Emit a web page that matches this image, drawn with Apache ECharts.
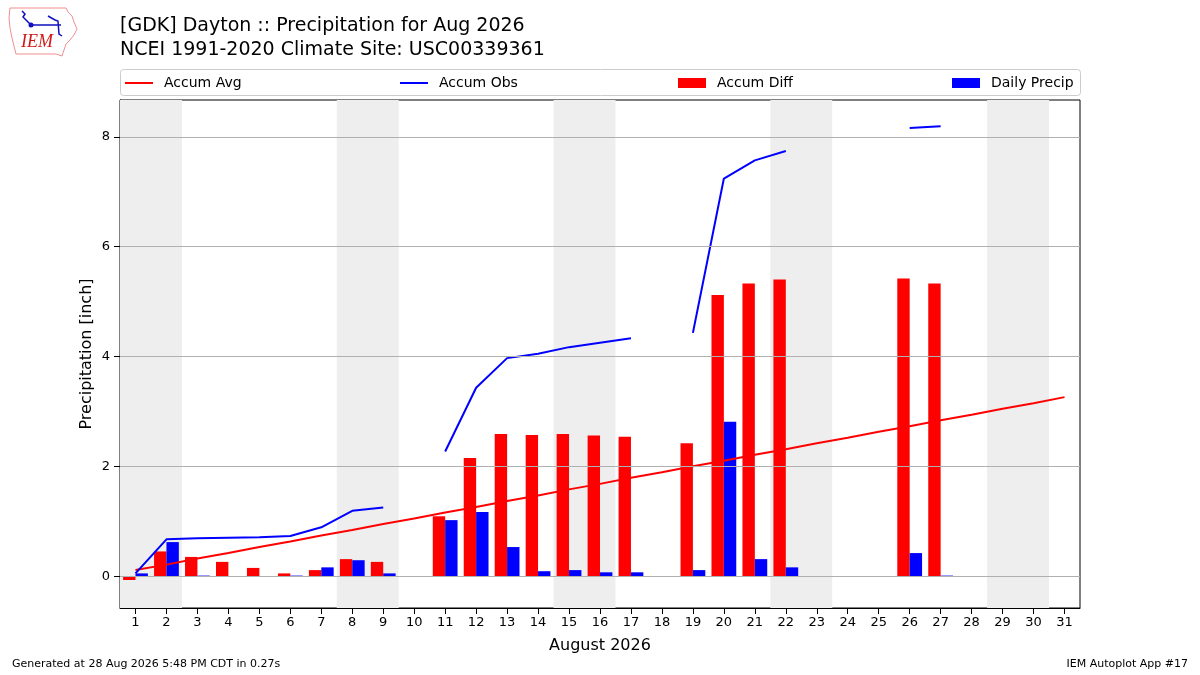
<!DOCTYPE html>
<html>
<head>
<meta charset="utf-8">
<title>Dayton Precipitation Aug 2026</title>
<script src="https://cdn.jsdelivr.net/npm/echarts@6/dist/echarts.min.js"></script>
<style>
  html, body { margin: 0; padding: 0; background: #fff; }
  #chart { width: 1200px; height: 675px; }
</style>
</head>
<body>
<div id="chart"></div>
<script>
// day of month
var days = [1, 2, 3, 4, 5, 6, 7, 8, 9, 10, 11, 12, 13, 14, 15, 16, 17, 18, 19, 20,
            21, 22, 23, 24, 25, 26, 27, 28, 29, 30, 31];
// climatology accumulated average (inch)
var accumAvg = [0.11, 0.21, 0.32, 0.42, 0.53, 0.63, 0.74, 0.84, 0.95, 1.05, 1.16,
                1.26, 1.37, 1.47, 1.58, 1.68, 1.79, 1.89, 2.00, 2.10, 2.21, 2.31,
                2.42, 2.52, 2.63, 2.73, 2.84, 2.94, 3.05, 3.15, 3.26];
// observed accumulation, null = missing
var accumObs = [0.05, 0.67, 0.69, 0.70, 0.71, 0.73, 0.89, 1.19, 1.25, null, 2.27,
                3.43, 3.97, 4.05, 4.17, 4.25, 4.33, null, 4.43, 7.24, 7.57, 7.74,
                null, null, null, 8.16, 8.19, null, null, null, null];
// observed minus average
var accumDiff = [-0.07, 0.45, 0.35, 0.26, 0.15, 0.05, 0.11, 0.31, 0.26, null, 1.09,
                 2.15, 2.59, 2.57, 2.59, 2.56, 2.54, null, 2.42, 5.12, 5.33, 5.40,
                 null, null, null, 5.42, 5.33, null, null, null, null];
// daily precipitation
var dailyPrecip = [0.05, 0.62, 0.01, 0, 0, 0.01, 0.16, 0.29, 0.05, null, 1.02,
                   1.17, 0.53, 0.09, 0.11, 0.07, 0.07, null, 0.11, 2.81, 0.31, 0.16,
                   null, null, null, 0.42, 0.01, null, null, null, null];
// weekend spans
var weekends = [[0.5, 2.5], [7.5, 9.5], [14.5, 16.5], [21.5, 23.5], [28.5, 30.5]];
var yTicks = [0, 2, 4, 6, 8];

var FONT = 'DejaVu Sans';

function pairs(vals) {
    var out = [];
    for (var i = 0; i < days.length; i++) {
        out.push([days[i], vals[i] === null ? null : vals[i]]);
    }
    return out;
}
function barPairs(vals) {
    var out = [];
    for (var i = 0; i < days.length; i++) {
        if (vals[i] !== null) out.push([days[i], vals[i]]);
    }
    return out;
}
function barRender(offset, color) {
    return function (params, api) {
        var d = api.value(0), v = api.value(1);
        var p1 = api.coord([d + offset, v]);
        var p2 = api.coord([d + offset + 0.4, 0]);
        return {
            type: 'rect',
            shape: {
                x: p1[0], y: Math.min(p1[1], p2[1]),
                width: p2[0] - p1[0], height: Math.abs(p2[1] - p1[1])
            },
            style: {fill: color}
        };
    };
}

var chart = echarts.init(document.getElementById('chart'));

var legendBase = {
    top: 71,
    itemWidth: 28,
    itemGap: 9,
    selectedMode: false,
    textStyle: {fontFamily: FONT, fontSize: 14, color: '#000', padding: [0, 0, 0, 6]}
};
function leg(name, left, h) {
    var l = echarts.util.merge({}, legendBase);
    l.data = [{name: name, icon: 'rect'}];
    l.left = left;
    l.itemHeight = h;
    return l;
}

var option = {
    backgroundColor: '#fff',
    animation: false,
    textStyle: {fontFamily: FONT},
    title: {
        text: '[GDK] Dayton :: Precipitation for Aug 2026\nNCEI 1991-2020 Climate Site: USC00339361',
        left: 115,
        top: 9,
        textStyle: {fontFamily: FONT, fontSize: 19, fontWeight: 'normal', color: '#000', lineHeight: 24}
    },
    legend: [
        leg('Accum Avg', 120, 2),
        leg('Accum Obs', 395, 2),
        leg('Accum Diff', 673, 10),
        leg('Daily Precip', 947, 10)
    ],
    grid: {
        left: 120, right: 120, top: 100, bottom: 67,
        show: true, borderColor: '#000', borderWidth: 1, backgroundColor: '#fff'
    },
    xAxis: {
        type: 'value',
        min: 0.5,
        max: 31.5,
        name: 'August 2026',
        nameLocation: 'middle',
        nameGap: 30,
        nameTextStyle: {fontFamily: FONT, fontSize: 16, color: '#000'},
        axisLine: {show: true, onZero: false, lineStyle: {color: '#000'}},
        axisTick: {show: true, customValues: days, length: 6, lineStyle: {color: '#000'}},
        axisLabel: {customValues: days, fontFamily: FONT, fontSize: 13, color: '#000', margin: 8},
        splitLine: {show: false}
    },
    yAxis: {
        type: 'value',
        min: -0.58,
        max: 8.67,
        name: 'Precipitation [inch]',
        nameLocation: 'middle',
        nameGap: 25,
        nameMoveOverlap: false,
        nameTextStyle: {fontFamily: FONT, fontSize: 16, color: '#000'},
        axisLine: {show: true, onZero: false, lineStyle: {color: '#000'}},
        axisTick: {show: true, customValues: yTicks, length: 6, lineStyle: {color: '#000'}},
        axisLabel: {customValues: yTicks, fontFamily: FONT, fontSize: 13, color: '#000', margin: 10},
        splitLine: {show: false}
    },
    graphic: [
        // legend frame
        {type: 'rect', left: 120, top: 69, z: -1, silent: true,
         shape: {width: 960, height: 26, r: 3},
         style: {fill: '#fff', stroke: '#cccccc', lineWidth: 1}},
        // logo
        {type: 'polyline', silent: true,
         shape: {points: [[10, 8], [66, 8], [68, 12], [72, 16], [74, 22], [77, 29], [74, 35],
                          [70, 40], [66, 44], [64, 50], [62, 56], [56, 54], [16, 54],
                          [14, 46], [12, 38], [10, 28], [9, 18], [10, 8]]},
         style: {stroke: '#f09090', fill: null, lineWidth: 1}},
        {type: 'polyline', silent: true,
         shape: {points: [[22, 11], [25, 14], [23, 17], [26, 20], [31, 25], [61, 25]]},
         style: {stroke: '#1010c0', fill: null, lineWidth: 1.5}},
        {type: 'circle', silent: true, shape: {cx: 31, cy: 25, r: 2.5}, style: {fill: '#1010c0'}},
        {type: 'polyline', silent: true,
         shape: {points: [[48, 16], [55, 20], [58, 21], [59, 34], [62, 36]]},
         style: {stroke: '#1010c0', fill: null, lineWidth: 1.5}},
        {type: 'text', left: 21, top: 33, silent: true,
         style: {text: 'IEM', fill: '#d01818', font: 'italic 18px "Liberation Serif", serif'}},
        // footer
        {type: 'text', left: 12, top: 659, silent: true,
         style: {text: 'Generated at 28 Aug 2026 5:48 PM CDT in 0.27s', fill: '#000',
                 font: '11px "DejaVu Sans"'}},
        {type: 'text', right: 12, top: 659, silent: true,
         style: {text: 'IEM Autoplot App #17', fill: '#000', font: '11px "DejaVu Sans"'}}
    ],
    series: [
        {
            // background: weekend shading + horizontal grid lines
            name: 'bg',
            type: 'line',
            data: [],
            z: 0,
            silent: true,
            markArea: {
                silent: true,
                itemStyle: {color: '#eeeeee'},
                data: weekends.map(function (w) {
                    return [{xAxis: w[0]}, {xAxis: w[1]}];
                })
            },
            markLine: {
                silent: true,
                symbol: 'none',
                label: {show: false},
                lineStyle: {color: '#b0b0b0', width: 1, type: 'solid'},
                data: yTicks.map(function (t) { return {yAxis: t}; })
            }
        },
        {
            name: 'Accum Diff',
            type: 'custom',
            z: 2,
            itemStyle: {color: '#ff0000'},
            renderItem: barRender(-0.4, '#ff0000'),
            data: barPairs(accumDiff)
        },
        {
            name: 'Daily Precip',
            type: 'custom',
            z: 2,
            itemStyle: {color: '#0000ff'},
            renderItem: barRender(0, '#0000ff'),
            data: barPairs(dailyPrecip)
        },
        {
            name: 'Accum Avg',
            type: 'line',
            z: 3,
            showSymbol: false,
            itemStyle: {color: '#ff0000'},
            lineStyle: {color: '#ff0000', width: 2},
            data: pairs(accumAvg)
        },
        {
            name: 'Accum Obs',
            type: 'line',
            z: 3,
            showSymbol: false,
            connectNulls: false,
            itemStyle: {color: '#0000ff'},
            lineStyle: {color: '#0000ff', width: 2},
            data: pairs(accumObs)
        }
    ]
};

chart.setOption(option);
</script>
</body>
</html>
